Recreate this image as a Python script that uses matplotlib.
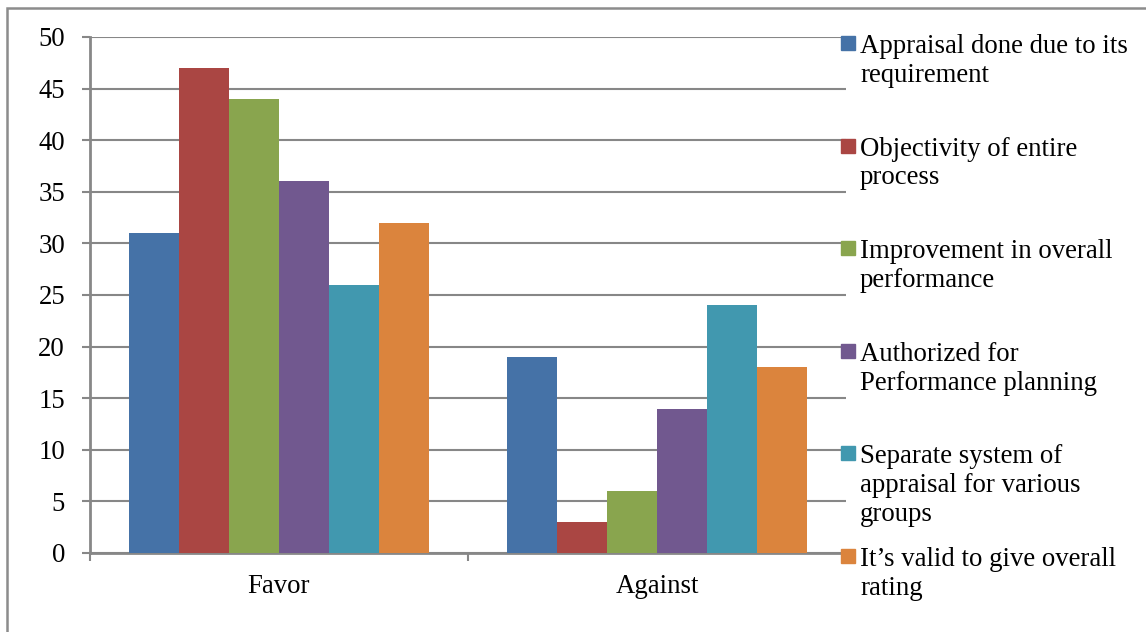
import numpy as np
import matplotlib.pyplot as plt
from matplotlib.patches import Rectangle

# chart data
groups = ['Favor', 'Against']
series = ['Appraisal done due to its\nrequirement',
          'Objectivity of entire\nprocess',
          'Improvement in overall\nperformance',
          'Authorized for\nPerformance planning',
          'Separate system of\nappraisal for various\ngroups',
          'It\u2019s valid to give overall\nrating']
favor = [31, 47, 44, 36, 26, 32]
against = [19, 3, 6, 14, 24, 18]
colors = ['#4572A7', '#AA4643', '#89A54E', '#71588F', '#4198AF', '#DB843D']
yticks = [0, 5, 10, 15, 20, 25, 30, 35, 40, 45, 50]

plt.rcParams['font.family'] = ['Liberation Serif', 'DejaVu Serif']
W, H = 1146, 632
fs = 19.3
fig = plt.figure(figsize=(W / 100, H / 100), dpi=100)
ax = fig.add_axes([90 / W, 1 - 553 / H, 756 / W, 516 / H])

grid_c = '#878787'
values = np.array([favor, against])
x = np.arange(len(groups))
bw = 50 / 378
n = len(series)
for i in range(n):
    ax.bar(x + (i - (n - 1) / 2) * bw, values[:, i], width=bw,
           color=colors[i], edgecolor='none', zorder=3)

ax.set_xlim(-0.5, len(groups) - 0.5)
ax.set_ylim(0, 50)
ax.set_yticks(yticks)
ax.set_yticklabels([str(v) for v in yticks], fontsize=fs)
ax.set_xticks(x)
ax.set_xticklabels(groups, fontsize=fs)
ax.set_xticks(np.arange(-0.5, len(groups)), minor=True)
ax.tick_params(axis='x', which='major', length=0, pad=15)
ax.tick_params(axis='x', which='minor', length=6, width=1.5, color=grid_c, direction='out')
ax.tick_params(axis='y', length=6, width=1.5, color=grid_c, pad=12)
ax.yaxis.grid(True, color=grid_c, linewidth=1.5, zorder=0)
ax.set_axisbelow(True)
for s in ['top', 'right']:
    ax.spines[s].set_visible(False)
for s in ['left', 'bottom']:
    ax.spines[s].set_color(grid_c)
    ax.spines[s].set_linewidth(2)

# legend drawn by hand so the entries sit at even steps like the original
for i in range(n):
    y0 = 52 + i * 102.6
    fig.patches.append(Rectangle((841 / W, 1 - (y0 - 2) / H), 14 / W, 14 / H,
                                 transform=fig.transFigure, color=colors[i]))
    fig.text(860 / W, 1 - (y0 - 18) / H, series[i], fontsize=fs, va='top',
             ha='left', linespacing=1.2)

# outer frame
fig.patches.append(Rectangle((7 / W, -0.1), 1.2, 1 - 8 / H + 0.1,
                             transform=fig.transFigure, fill=False,
                             edgecolor='#8c8c8c', linewidth=1.8))

fig.savefig('out.png', dpi=100)
